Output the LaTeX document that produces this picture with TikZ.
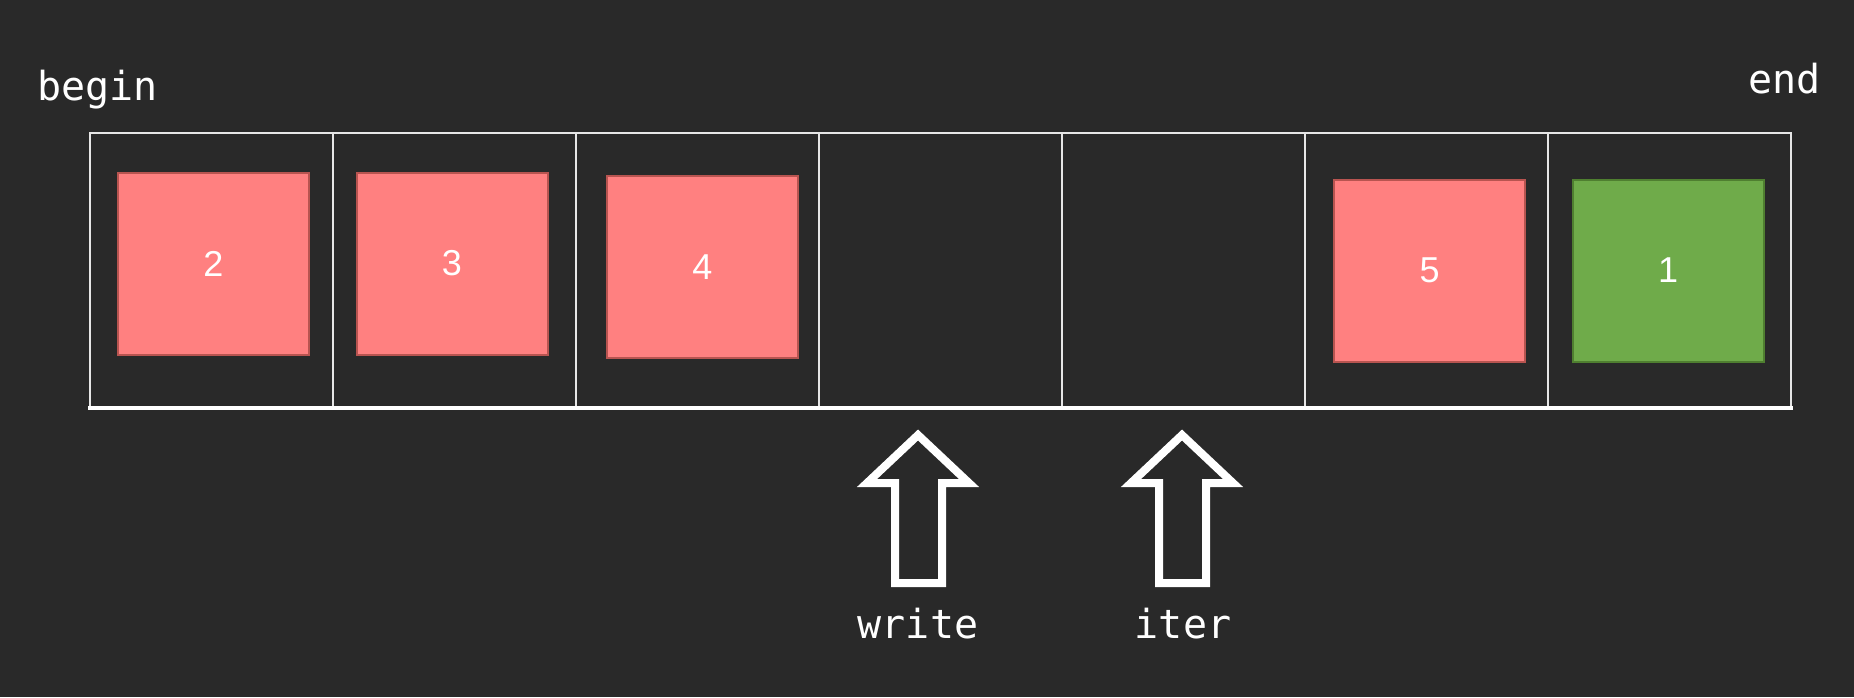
\documentclass[tikz,border=0pt]{standalone}
\usepackage{fontspec}
\setmonofont{DejaVu Sans Mono}
\newfontfamily\digitfont{Liberation Sans}
\definecolor{bg}{HTML}{292929}
\definecolor{redfill}{HTML}{FF8080}
\definecolor{redline}{HTML}{B85450}
\definecolor{greenfill}{HTML}{6FAB4A}
\definecolor{greenline}{HTML}{4F7F30}
\definecolor{gridline}{HTML}{E6E6E6}
\begin{document}
\begin{tikzpicture}[x=1pt,y=-1pt,
  cell/.style={draw=gridline,line width=2pt,minimum width=243pt,minimum height=274pt,inner sep=0pt},
  item/.style={line width=2pt,minimum width=191pt,minimum height=182pt,inner sep=0pt,text=white,font=\digitfont\fontsize{36}{43}\selectfont},
  reditem/.style={item,fill=redfill,draw=redline},
  greenitem/.style={item,fill=greenfill,draw=greenline},
  label/.style={text=white,inner sep=0pt,font=\ttfamily\fontsize{40}{48}\selectfont},
  hollowarrow/.style={draw=white,line width=8pt,line join=miter}
]
\useasboundingbox[fill=bg] (0,0) rectangle (1854,697);
% cells
\foreach \i in {0,...,6} {
  \node[cell] (c\i) at ({90+243*(\i+0.5)},270) {};
}
% bottom thick line
\draw[white,line width=4pt] (c0.south west) ++(-1,0) -- ([xshift=1pt]c6.south east);
% items
\node[reditem] (b2) at (213.5,264) {2};
\node[reditem] (b3) at (452,263.5) {3};
\node[reditem] (b4) at (702.5,267) {4};
\node[reditem] (b5) at (1429.5,270.5) {5};
\node[greenitem] (b1) at (1668,270.5) {1};
% labels
\node[label,anchor=base west] (begin) at (37,100) {begin};
\node[label,anchor=base east] (end) at (1821,93) {end};
% arrows
\foreach \name/\dx in {wa/0,ia/264} {
  \draw[hollowarrow,xshift=\dx] (918,435) -- (969,483) -- (942,483) -- (942,583) -- (895,583) -- (895,483) -- (867,483) -- cycle;
}
\node[label,anchor=base] (write) at (918,638) {write};
\node[label,anchor=base] (iter) at (1183,638) {iter};
\end{tikzpicture}
\end{document}
